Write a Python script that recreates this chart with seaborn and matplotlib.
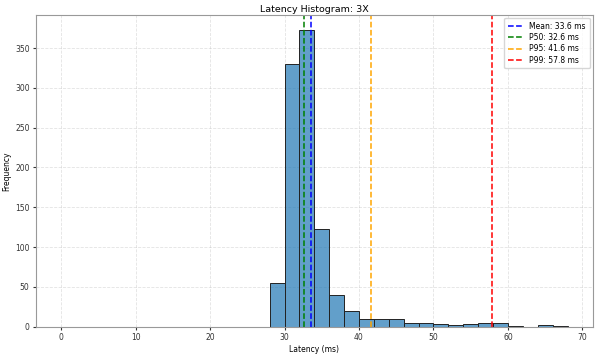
import matplotlib
matplotlib.use("Agg")
import matplotlib.pyplot as plt
import numpy as np
import pandas as pd
import seaborn as sns

# histogram bins (2 ms wide, 0..68 ms) and counts
BIN_LEFT = list(range(0, 68, 2))
COUNTS = [0] * 14 + [55, 330, 373, 123, 40, 20, 9, 9, 10, 4, 4, 3, 2, 3, 5, 5, 1, 0, 2, 1]

STATS = [("Mean", 33.6, "blue"), ("P50", 32.6, "green"),
         ("P95", 41.6, "orange"), ("P99", 57.8, "red")]

hist_df = pd.DataFrame({"latency": np.array(BIN_LEFT) + 1.0, "count": COUNTS})

plt.rcParams.update({"font.size": 6, "axes.edgecolor": "#999999"})
fig, ax = plt.subplots(figsize=(5.97, 3.55), dpi=100)

sns.histplot(data=hist_df, x="latency", weights="count", binwidth=2, binrange=(0, 68),
             ax=ax, color="#1f77b4", alpha=0.7, edgecolor="#222222", linewidth=0.7)

for name, val, col in STATS:
    ax.axvline(val, color=col, ls="--", lw=1.1, label=f"{name}: {val:.1f} ms")

ax.set_xlim(-3.4, 71.4)
ax.set_ylim(0, max(COUNTS) * 1.05)
ax.grid(True, ls="--", alpha=0.35, lw=0.6)
ax.set_axisbelow(True)
ax.set_title("Latency Histogram: 3X", fontsize=6.8, pad=2)
ax.set_xlabel("Latency (ms)", fontsize=5.5, labelpad=2)
ax.set_ylabel("Frequency", fontsize=5.5, labelpad=3)
ax.tick_params(labelsize=5.5, length=2.5, pad=2, colors="#333333")
ax.legend(loc="upper right", fontsize=5.5, labelspacing=0.3, handlelength=2.0,
          borderpad=0.5, borderaxespad=0.4)

fig.subplots_adjust(left=0.06, right=0.993, top=0.958, bottom=0.08)
fig.savefig("out.png", dpi=100)
